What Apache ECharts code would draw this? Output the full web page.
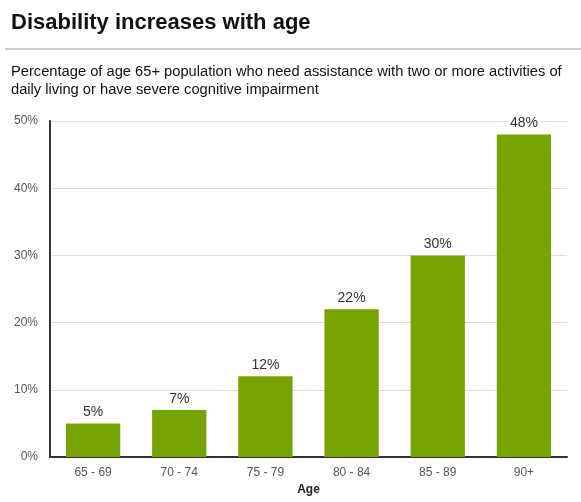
<!DOCTYPE html>
<html>
<head>
<meta charset="utf-8">
<script src="https://cdn.jsdelivr.net/npm/echarts@6/dist/echarts.min.js"></script>
<style>
  html, body { margin: 0; padding: 0; background: #fff; }
  #chart { width: 581px; height: 502px; }
</style>
</head>
<body>
<div id="chart"></div>
<script>
// 各年龄段需要协助的比例
const ageGroups = ['65 - 69', '70 - 74', '75 - 79', '80 - 84', '85 - 89', '90+']
const disabilityPct = [5, 7, 12, 22, 30, 48]
const yTicks = [0, 10, 20, 30, 40, 50]

const font = "'Liberation Sans', Arial, sans-serif"
const chart = echarts.init(document.getElementById('chart'))

chart.setOption({
  backgroundColor: '#fff',
  animation: false,
  textStyle: { fontFamily: font },
  title: [
    {
      text: 'Disability increases with age',
      left: 6, top: 7,
      textStyle: { fontSize: 22, fontWeight: 'bold', color: '#111', fontFamily: font }
    },
    {
      text: 'Percentage of age 65+ population who need assistance with two or more activities of\ndaily living or have severe cognitive impairment',
      left: 6, top: 58,
      textStyle: { fontSize: 14.7, fontWeight: 'normal', color: '#111', lineHeight: 18, fontFamily: font }
    }
  ],
  graphic: [
    {
      type: 'line',
      shape: { x1: 5, y1: 49, x2: 581, y2: 49 },
      style: { stroke: '#999', lineWidth: 1 }
    }
  ],
  grid: { left: 50, right: 14, top: 121, bottom: 45 },
  xAxis: {
    type: 'category',
    data: ageGroups,
    name: 'Age',
    nameLocation: 'middle',
    nameGap: 25,
    nameTextStyle: { fontSize: 12, fontWeight: 'bold', color: '#222' },
    axisLine: { lineStyle: { color: '#333', width: 2 } },
    axisTick: { show: false },
    axisLabel: { color: '#555', fontSize: 12, margin: 10 }
  },
  yAxis: {
    type: 'value',
    min: yTicks[0],
    max: yTicks[yTicks.length - 1],
    interval: 10,
    axisLine: { show: true, lineStyle: { color: '#333', width: 2 } },
    axisTick: { show: false },
    axisLabel: { color: '#555', fontSize: 12, margin: 12, formatter: v => v + '%' },
    splitLine: { lineStyle: { color: '#ddd', width: 1 } }
  },
  series: [
    {
      type: 'bar',
      data: disabilityPct,
      barWidth: '63%',
      itemStyle: { color: '#77a300' },
      label: {
        show: true,
        position: 'top',
        distance: 4,
        formatter: p => p.value + '%',
        color: '#333',
        fontSize: 14,
        backgroundColor: '#fff',
        padding: [0, 3]
      }
    }
  ]
})
</script>
</body>
</html>
